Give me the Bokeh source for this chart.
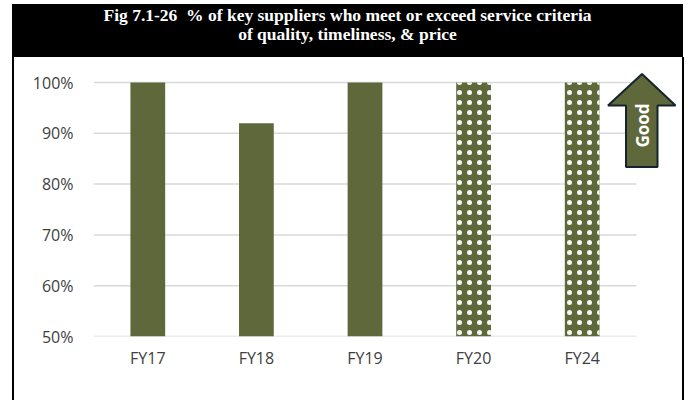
import numpy as np
from bokeh.plotting import figure
from bokeh.layouts import column, row
from bokeh.models import (ColumnDataSource, FixedTicker, NumeralTickFormatter,
                          PolyAnnotation, Label, Div, Spacer)
from bokeh.embed import file_html
from bokeh.resources import INLINE

categories = ["FY17", "FY18", "FY19", "FY20", "FY24"]
values = [1.00, 0.92, 1.00, 1.00, 1.00]
dotted = [False, False, False, True, True]
y_ticks = [0.5, 0.6, 0.7, 0.8, 0.9, 1.0]
title_lines = ["Fig 7.1-26&nbsp;&nbsp;% of key suppliers who meet or exceed service criteria",
               "of quality, timeliness, &amp; price"]

BAR = "#5f683b"
TXT = "#404040"

# layout (absolute page pixels)
OX, OY = 14, 57            # top-left of the plot canvas on the page
PW, PH = 668, 343          # plot canvas size
FL, FR, FB = 93, 682, 336  # frame left / right / bottom (page px)
Y100 = 82                  # page y of the 100% gridline
px_per_x = (636 - FL) / 5.0
px_per_y = (FB - Y100) / 0.5
x_end = (FR - FL) / px_per_x
y_end = 1.0 + (Y100 - OY) / px_per_y

xpos = [i + 0.5 for i in range(len(categories))]
solid = ColumnDataSource(dict(x=[x for x, d in zip(xpos, dotted) if not d],
                              top=[v for v, d in zip(values, dotted) if not d]))
dots = ColumnDataSource(dict(x=[x for x, d in zip(xpos, dotted) if d],
                             top=[v for v, d in zip(values, dotted) if d]))
grid = ColumnDataSource(dict(y=y_ticks, x0=[0] * len(y_ticks), x1=[5] * len(y_ticks)))

p = figure(width=PW, height=PH, x_range=(0, x_end), y_range=(0.5, y_end),
           output_backend="svg", toolbar_location=None,
           min_border_left=FL - OX, min_border_right=OX + PW - FR,
           min_border_top=0, min_border_bottom=OY + PH - FB, margin=0)
p.outline_line_color = None
p.background_fill_color = "white"
p.border_fill_color = "white"
p.xgrid.visible = False
p.ygrid.visible = False

p.segment(x0="x0", x1="x1", y0="y", y1="y", source=grid,
          line_color="#d9d9d9", line_width=1.5)
p.vbar(x="x", top="top", bottom=0.5, width=0.32, source=solid,
       fill_color=BAR, line_color=None)
p.vbar(x="x", top="top", bottom=0.5, width=0.32, source=dots,
       fill_color=BAR, line_color=None, hatch_pattern="dot",
       hatch_color="white", hatch_scale=10, hatch_weight=0.5, hatch_alpha=0.95)

p.yaxis.ticker = FixedTicker(ticks=y_ticks)
p.yaxis.formatter = NumeralTickFormatter(format="0%")
p.xaxis.ticker = FixedTicker(ticks=xpos)
p.xaxis.major_label_overrides = {x: c for x, c in zip(xpos, categories)}
for ax in (p.xaxis[0], p.yaxis[0]):
    ax.axis_line_color = None
    ax.major_tick_line_color = None
    ax.minor_tick_line_color = None
    ax.major_tick_out = 0
    ax.major_tick_in = 0
    ax.major_label_text_font = "Open Sans"
    ax.major_label_text_font_size = "16px"
    ax.major_label_text_color = TXT
p.yaxis.major_label_standoff = 20
p.xaxis.major_label_standoff = 10

# "Good" arrow (canvas px of the plot)
ax_ = [641.5, 675, 657, 657, 625.5, 625.5, 607.5]
ay_ = [73.5, 105, 105, 166.5, 166.5, 105, 105]
p.add_layout(PolyAnnotation(xs=[x - OX for x in ax_], ys=[y - OY for y in ay_],
                            xs_units="canvas", ys_units="canvas",
                            fill_color=BAR, fill_alpha=1,
                            line_color="#14232c", line_alpha=1, line_width=2))
p.add_layout(Label(x=642 - OX, y=125 - OY, x_units="canvas", y_units="canvas", text="Good",
                   angle=np.pi / 2, text_font="Open Sans", text_font_style="bold",
                   text_font_size="17px", text_color="white",
                   text_align="center", text_baseline="middle"))

band = Div(text=('<div style="padding-top:2px;text-align:center;width:671px;'
                 'font-family:\'Liberation Serif\';font-weight:bold;font-size:17.5px;'
                 'line-height:19px;color:white;">' + "<br>".join(title_lines) + '</div>'),
           width=671, height=53, margin=0, styles={"background-color": "black"})
vl = Div(text="", width=2, height=PH, margin=0, styles={"background-color": "black"})
vr = Div(text="", width=2, height=PH, margin=0, styles={"background-color": "black"})

layout = column(
    Spacer(width=688, height=4, margin=0),
    row(Spacer(width=12, height=53, margin=0), band, spacing=0, margin=0),
    row(Spacer(width=12, height=PH, margin=0), vl, p, vr, spacing=0, margin=0),
    spacing=0, margin=0,
)

open("out.html", "w").write(file_html(layout, INLINE))
